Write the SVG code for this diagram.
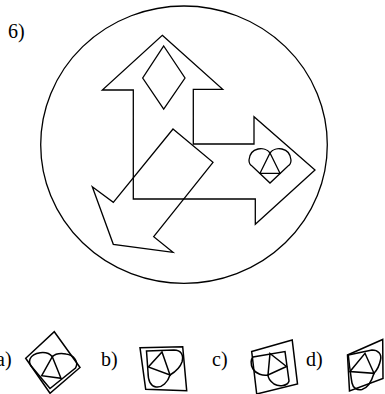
<svg xmlns="http://www.w3.org/2000/svg" width="385" height="394" viewBox="0 0 385 394">
<style>
.s{fill:none;stroke:#000;stroke-width:1.3;stroke-linejoin:miter}
.o{fill:none;stroke:#000;stroke-width:1.5;stroke-linejoin:miter}
.t{font-family:"Liberation Serif","Times New Roman",serif;font-size:20px;fill:#000}
</style>
<rect width="385" height="394" fill="#fff"/>
<text class="t" x="8" y="38">6)</text>
<g id="circle"><ellipse class="s" cx="184" cy="144.7" rx="143.3" ry="138.7"/></g>
<g id="l-arrow"><polygon class="s" points="162.3,35.3 222.7,89.3 193.3,89.3 193.3,144 254,144 254,116.7 315,170 255.3,224.3 255.3,199 133.3,199 133.3,90 102.3,90"/></g>
<g id="diamond"><polygon class="s" points="163.7,46 185,78 163.7,109 142.7,78"/></g>
<g id="down-arrow"><polygon class="s" points="173,129 213,162.3 153.7,236.7 173,252.3 113.3,244.3 92.3,186.7 113.3,202.3"/></g>
<g id="heart">
<path class="s" d="M270,153 C265,146 250,147 249,160 C249,163 250,165 252,166 L270,183 L288,166 C290,165 291,163 291,160 C290,147 275,146 270,153 Z"/>
<polygon class="s" points="270,153 280,173.3 260,173.3"/>
</g>
<g id="option-a">
<text class="t" x="-4" y="366">a)</text>
<polygon class="o" points="54.3,331.7 80,367.5 50,393.3 25.7,358.3"/>
<path class="o" d="M52.3,356.7 C47,350 33,352 30,359 C29,362 30,365 32,367 L50,388.5 L75.5,368 C79,362 74,355 66,354 C60,353 55,354 52.3,356.7 Z"/>
<polygon class="o" points="52.3,356.7 61,378.3 41.7,375.7"/>
</g>
<g id="option-b">
<text class="t" x="101" y="366">b)</text>
<polygon class="o" points="140,347.7 182.7,346.7 186.7,390.7 145.7,389.3"/>
<path class="o" d="M146.5,351 L174,350 C181,350 184,355 182,362 C180,368 175,372 170,375 C168,382 162,388 156,387 C150,386 148,380 148,372 Z"/>
<polygon class="o" points="148.3,367 162,352 170,375"/>
</g>
<g id="option-c">
<text class="t" x="212" y="366">c)</text>
<polygon class="o" points="251.7,351.5 292.2,340 297.5,384 256.7,394"/>
<path class="o" d="M285,351.5 L289,381 C288,386 279,387 274,384 C270,381 268,378 268,375 C263,376 256,374 253,369 C250,364 251,359 253,357 Z"/>
<polygon class="o" points="270,353.5 286.5,366.5 268,375"/>
</g>
<g id="option-d">
<text class="t" x="306" y="366">d)</text>
<polygon class="o" points="347.5,355 382.7,339.5 383,378.5 349.5,391"/>
<path class="o" d="M348.3,355 L372,350 C378,350 382,354 380.5,360 C379.5,365 377,370 374,373.3 C372,380 368,388 362,389.5 C357,390.5 353,388 352,383 C351,378 350.5,372 349.5,366 Z"/>
<polygon class="o" points="350,371.5 365,353.3 374,373.3"/>
</g>
</svg>
